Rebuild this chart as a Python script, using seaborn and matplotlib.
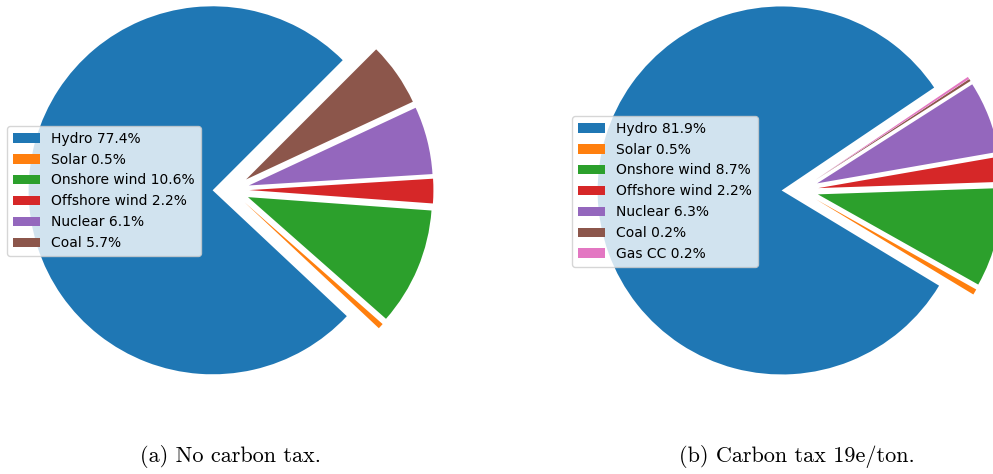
import seaborn as sns
import matplotlib.pyplot as plt

# shares as printed in the legends (left set sums to 102.5, pie normalises)
labels_a = ['Hydro', 'Solar', 'Onshore wind', 'Offshore wind', 'Nuclear', 'Coal']
share_a = [77.4, 0.5, 10.6, 2.2, 6.1, 5.7]
labels_b = ['Hydro', 'Solar', 'Onshore wind', 'Offshore wind', 'Nuclear', 'Coal', 'Gas CC']
share_b = [81.9, 0.5, 8.7, 2.2, 6.3, 0.2, 0.2]
captions = ['(a) No carbon tax.', '(b) Carbon tax 19e/ton.']

colors = sns.color_palette('tab10')

W, H = 993, 474
R = 184.0  # pie radius in pixels
Y_BOT = 80
fig = plt.figure(figsize=(W / 100, H / 100), dpi=100)


def draw(x0, x1, cx, cy_top, start, labels, share, leg_xy):
    ax = fig.add_axes([x0 / W, Y_BOT / H, (x1 - x0) / W, (H - Y_BOT) / H])
    explode = [0.1] * len(share)
    wedges, _ = ax.pie(share, colors=colors[:len(share)], explode=explode,
                       startangle=start, radius=1)
    # limits after pie() so the pixel scale is fixed
    cy = H - cy_top - Y_BOT
    ax.set_aspect('auto')
    ax.set_xlim(-(cx - x0) / R, (x1 - cx) / R)
    ax.set_ylim(-cy / R, (H - Y_BOT - cy) / R)
    ax.axis('off')
    leg_labels = ['%s %.1f%%' % (l, s) for l, s in zip(labels, share)]
    fig.legend(wedges, leg_labels, loc='upper left',
               bbox_to_anchor=(leg_xy[0] / W, 1 - leg_xy[1] / H),
               borderaxespad=0, fontsize=10)
    return ax


ax1 = draw(0, 496, 231, 190, 45, labels_a, share_a, (7, 126))
ax2 = draw(497, 993, 800, 190, 34, labels_b, share_b, (572, 116))

fig.text(230 / W, 1 - 457 / H, captions[0], family='cmr10', fontsize=16,
         ha='center', va='center')
fig.text(797 / W, 1 - 457 / H, captions[1], family='cmr10', fontsize=16,
         ha='center', va='center')

fig.savefig('out.png', dpi=100)
